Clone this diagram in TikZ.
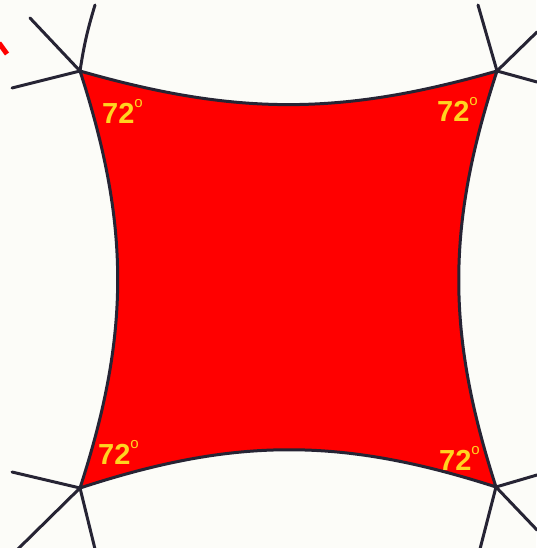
\documentclass[tikz,border=0pt]{standalone}
\usepackage{fontspec}
\setmainfont{Liberation Sans}
\usepackage{tikz}
\usetikzlibrary{positioning}
\definecolor{tilered}{RGB}{255,0,0}
\definecolor{tileedge}{RGB}{38,36,52}
\definecolor{anglecol}{RGB}{255,212,32}
\definecolor{paper}{RGB}{252,252,248}
\newcommand{\degsign}{\raisebox{16pt}{\fontsize{15}{15}\selectfont\mdseries o}}

\begin{document}
\begin{tikzpicture}[x=1pt,y=1pt,
    tileline/.style={line width=3pt,color=tileedge,line cap=round},
    anglelbl/.style={inner sep=0pt,anchor=base west,text=anglecol,font=\fontsize{29}{30}\selectfont\bfseries}]
  \fill[paper] (0,0) rectangle (536,548);
  \useasboundingbox (0,0) rectangle (536,548);
  % corners of the red square
  \coordinate (a) at (80,477);
  \coordinate (b) at (497,477);
  \coordinate (c) at (80,60);
  \coordinate (d) at (496,61);
  % free ends of the outer edges
  \coordinate (a1) at (12,460);
  \coordinate (a2) at (30,530);
  \coordinate (a3) at (95,543);
  \coordinate (b1) at (478,543);
  \coordinate (b2) at (537,516);
  \coordinate (b3) at (537,466);
  \coordinate (c1) at (12,76);
  \coordinate (c2) at (18,-1);
  \coordinate (c3) at (95,-1);
  \coordinate (d1) at (537,73);
  \coordinate (d2) at (480,-1);
  \coordinate (d3) at (537,18);
  \fill[tilered] (a) to[bend right=16] (b) to[bend right=18] (d)
    to[bend right=18] (c) to[bend right=18] (a);
  \draw[tileline] (a) to[bend right=16] (b) to[bend right=18] (d)
    to[bend right=18] (c) to[bend right=18] (a);
  \draw[tileline] (a)--(a1);
  \draw[tileline] (a)--(a2);
  \draw[tileline] (a) to[bend left=4] (a3);
  \draw[tileline] (b)--(b1);
  \draw[tileline] (b)--(b2);
  \draw[tileline] (b)--(b3);
  \draw[tileline] (c)--(c1);
  \draw[tileline] (c)--(c2);
  \draw[tileline] (c)--(c3);
  \draw[tileline] (d)--(d1);
  \draw[tileline] (d)--(d2);
  \draw[tileline] (d)--(d3);
  \node[anglelbl] (la) at (102,424) {72\degsign};
  \node[anglelbl] (lb) at (437,426) {72\degsign};
  \node[anglelbl] (lc) at (98,83) {72\degsign};
  \node[anglelbl] (ld) at (439,77) {72\degsign};
  % red stroke at the left edge
  \coordinate (m1) at (-1,505);
  \coordinate (m2) at (7,494);
  \draw[tilered,line width=5pt] (m1)--(m2);
\end{tikzpicture}
\end{document}
